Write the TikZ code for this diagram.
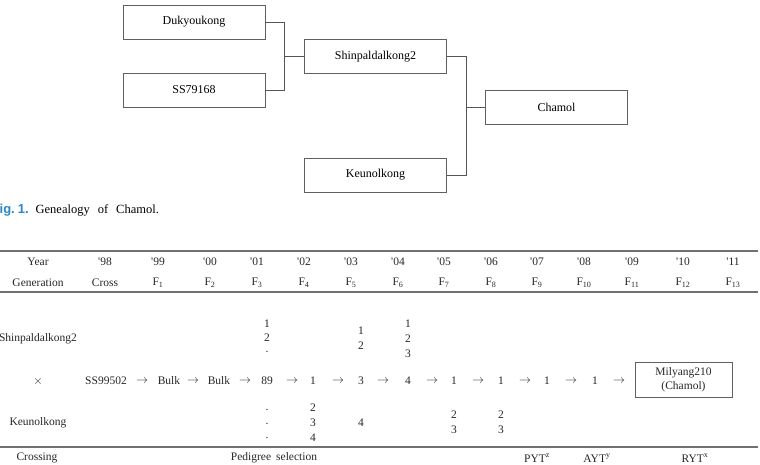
\documentclass[tikz,border=0pt]{standalone}
\usepackage{fontspec}
\setmainfont{Liberation Serif}
\newfontfamily\captfont{Liberation Sans}
\usetikzlibrary{positioning, calc}
\definecolor{LineG}  {HTML}{555555}
\definecolor{BoxG}   {HTML}{606060}
\definecolor{RuleG}  {HTML}{707070}
\definecolor{CaptB}  {HTML}{2A86C8}
\newcommand{\yq}{\textquotesingle}
\tikzset{
  pbox/.style={
    rectangle, draw=BoxG, line width=0.9pt, fill=white,
    minimum width=142pt, minimum height=34pt,
    font=\fontsize{12}{14}\selectfont, inner sep=2pt,
  },
  link/.style={draw=LineG, line width=0.9pt},
  cell/.style={font=\fontsize{11.5}{14}\selectfont, inner sep=0pt, text=black!85},
  trule/.style={draw=RuleG, line width=1.3pt},
}
\begin{document}
\begin{tikzpicture}[x=1pt,y=-1pt]
  \useasboundingbox (0,0) rectangle (760,465);
  \clip (0,0) rectangle (760,465);
  % pedigree
  \node[pbox] (duk)  at (194,22)    {Dukyoukong};
  \node[pbox] (ss)   at (194,90)    {SS79168};
  \node[pbox] (shin) at (375.5,56.5) {Shinpaldalkong2};
  \node[pbox] (keun) at (375.5,175) {Keunolkong};
  \node[pbox] (cham) at (556.5,107) {Chamol};
  \coordinate (j1) at ($(duk.east)!0.5!(shin.west)$);
  \coordinate (j2) at ($(shin.east)!0.5!(cham.west)$);
  \draw[link] (duk.east) -| (j1 |- ss.east) -- (ss.east);
  \draw[link] (j1 |- shin.west) -- (shin.west);
  \draw[link] (shin.east) -| (j2 |- keun.east) -- (keun.east);
  \draw[link] (j2 |- cham.west) -- (cham.west);
  % caption
  \node[anchor=base west, inner sep=0pt, font=\fontsize{12.5}{15}\selectfont]
    (capt) at (-8.5,214) {{\captfont\fontsize{13}{15}\selectfont\bfseries\color{CaptB}Fig.\hspace{3pt}1.}\hspace{7pt}Genealogy\hspace{8pt}of\hspace{8pt}Chamol.};
  % table rules
  \draw[trule] (0,251) -- (758,251);
  \draw[trule] (0,292) -- (758,292);
  \draw[trule] (0,447) -- (758,447);
  % header
  \node[cell] (hy) at (38,262) {Year};
  \node[cell] (hg) at (38,283) {Generation};
  \foreach \x/\yr/\gen [count=\i] in {
      105/98/Cross,
      158/99/F\textsubscript{1},
      210/00/F\textsubscript{2},
      257/01/F\textsubscript{3},
      304/02/F\textsubscript{4},
      351/03/F\textsubscript{5},
      398/04/F\textsubscript{6},
      444/05/F\textsubscript{7},
      491/06/F\textsubscript{8},
      537/07/F\textsubscript{9},
      584/08/F\textsubscript{10},
      632/09/F\textsubscript{11},
      683/10/F\textsubscript{12},
      733/11/F\textsubscript{13}}{
    \node[cell] (yr\i)  at (\x,262) {\yq\yr};
    \node[cell] (gen\i) at (\x,283) {\gen};
  }
  % parents
  \node[cell] (par1)  at (38,339) {Shinpaldalkong2};
  \node[cell] (cross) at (38,381) {$\times$};
  \node[cell] (par2)  at (38,423) {Keunolkong};
  % main line
  \foreach \x/\t [count=\i] in {
      106/SS99502, 142/$\rightarrow$, 169/Bulk, 193/$\rightarrow$,
      219/Bulk, 245/$\rightarrow$, 267/89, 292/$\rightarrow$,
      313/1, 338/$\rightarrow$, 361/3, 383/$\rightarrow$,
      408/4, 432/$\rightarrow$, 454/1, 478/$\rightarrow$,
      501/1, 525/$\rightarrow$, 547/1, 571/$\rightarrow$,
      595/1, 619/$\rightarrow$}{
    \node[cell] (r\i) at (\x,381) {\t};
  }
  \node[draw=BoxG, line width=1pt, cell, minimum width=97pt, minimum height=35pt,
        align=center] (mil) at (683.5,379.5) {Milyang210\\(Chamol)};
  % selected lines
  \foreach \x/\y/\t [count=\i] in {
      267/324/1, 267/338/2, 267/352/.,
      267/410/., 267/424/., 267/438/.,
      313/408/2, 313/423/3, 313/438/4,
      361/331/1, 361/346/2, 361/423/4,
      408/324/1, 408/339/2, 408/354/3,
      454/415/2, 454/430/3,
      501/415/2, 501/430/3}{
    \node[cell] (s\i) at (\x,\y) {\t};
  }
  % stages
  \node[cell] (st1) at (37,458)  {Crossing};
  \node[cell] (st2) at (274,458) {Pedigree\hspace{5pt}selection};
  \node[cell] (st3) at (537,458) {PYT\textsuperscript{z}};
  \node[cell] (st4) at (597,458) {AYT\textsuperscript{y}};
  \node[cell] (st5) at (695,458) {RYT\textsuperscript{x}};
\end{tikzpicture}
\end{document}
